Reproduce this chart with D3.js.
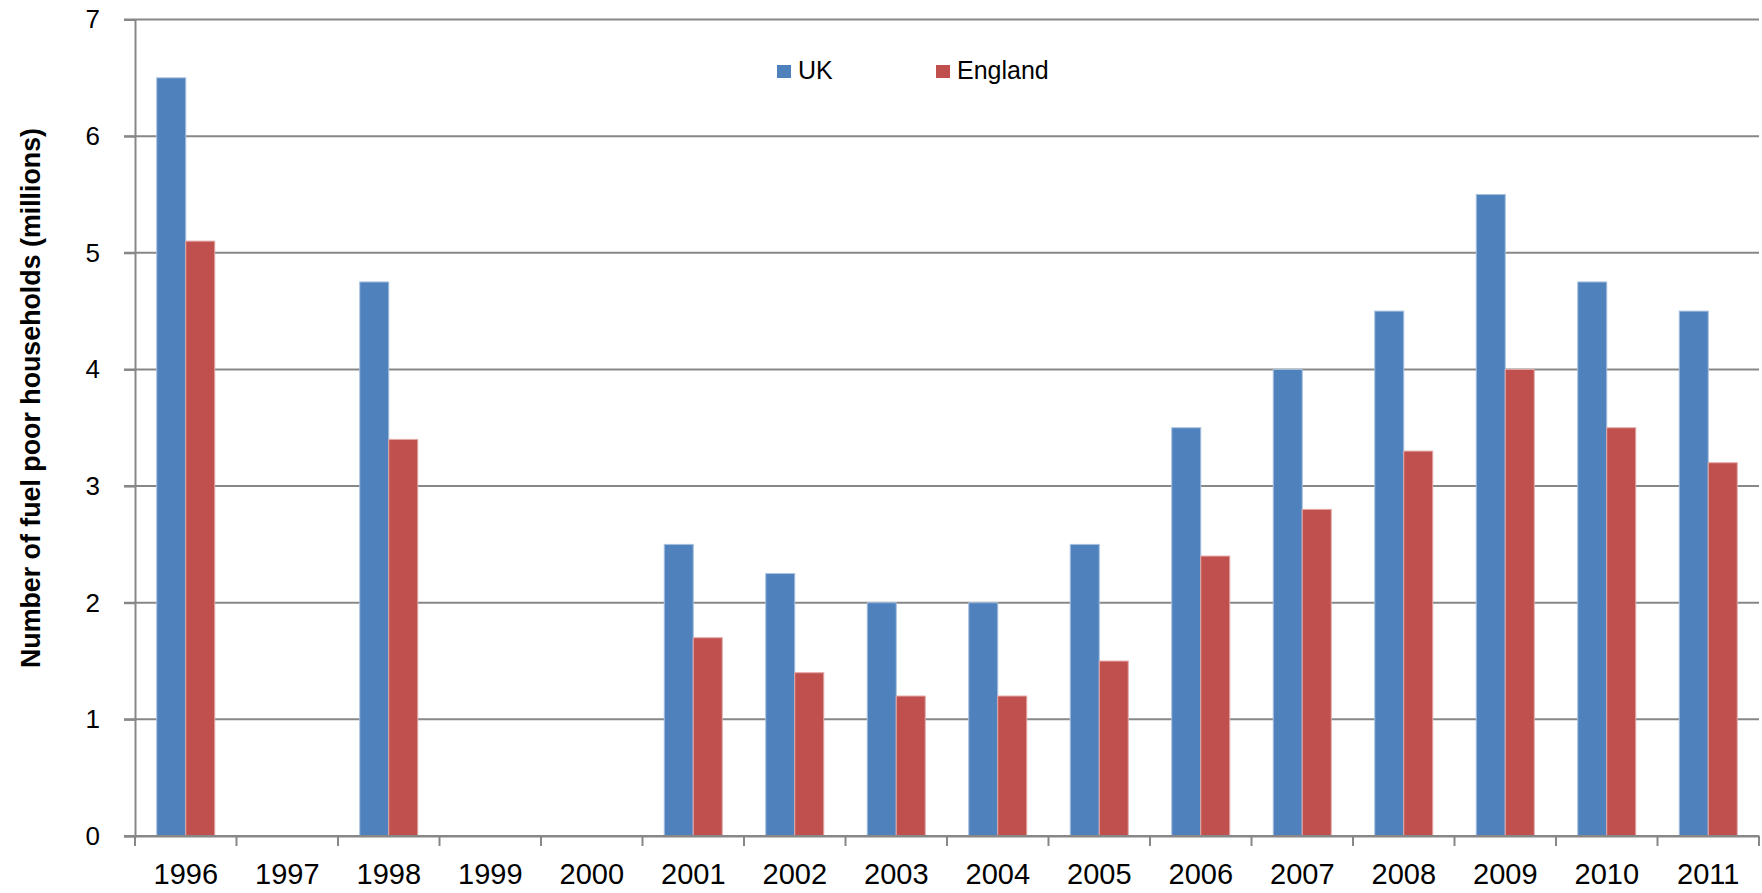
<!DOCTYPE html>
<html lang="en">
<head>
  <meta charset="UTF-8">
  <title>Fuel poor households</title>
  <style>
    body {
      margin: 0;
      padding: 0;
      background-color: #ffffff;
    }
    svg text {
      fill: #000;
    }
  </style>
  <script src="https://d3js.org/d3.v7.min.js"></script>
</head>
<body>
  <div id="chart"></div>
  <script>
    const years = ["1996", "1997", "1998", "1999", "2000", "2001", "2002", "2003",
                   "2004", "2005", "2006", "2007", "2008", "2009", "2010", "2011"];
    const series = ["UK", "England"];
    // null = no survey that year
    const ukValues = [6.5, null, 4.75, null, null, 2.5, 2.25, 2.0, 2.0, 2.5, 3.5, 4.0, 4.5, 5.5, 4.75, 4.5];
    const englandValues = [5.1, null, 3.4, null, null, 1.7, 1.4, 1.2, 1.2, 1.5, 2.4, 2.8, 3.3, 4.0, 3.5, 3.2];
    const yTicks = [0, 1, 2, 3, 4, 5, 6, 7];
    const colors = { UK: "#4f81bd", England: "#c0504d" };
    const edges = { UK: "#a7c0de", England: "#e2a9a7" };

    const width = 1762;
    const height = 893;
    const margin = { top: 19.5, right: 3, bottom: 57, left: 135 };

    const svg = d3.select("#chart")
      .append("svg")
      .attr("width", width)
      .attr("height", height);

    const x = d3.scaleBand()
      .domain(years)
      .range([margin.left, width - margin.right])
      .padding(0);

    const xSub = d3.scaleBand()
      .domain(series)
      .range([0, x.bandwidth()])
      .paddingInner(0)
      .paddingOuter(0.75);

    const y = d3.scaleLinear()
      .domain([0, 7])
      .range([height - margin.bottom, margin.top]);

    // gridlines
    svg.append("g")
      .selectAll("line")
      .data(yTicks)
      .enter()
      .append("line")
      .attr("x1", margin.left - 11)
      .attr("x2", width - margin.right)
      .attr("y1", d => y(d))
      .attr("y2", d => y(d))
      .attr("stroke", "#878787")
      .attr("stroke-width", 2);

    // y axis
    const yAxis = svg.append("g")
      .attr("transform", `translate(${margin.left},0)`)
      .call(d3.axisLeft(y).tickValues(yTicks).tickFormat(d3.format("d")).tickSize(11).tickPadding(24));
    yAxis.select(".domain").attr("stroke", "#878787").attr("stroke-width", 2);
    yAxis.selectAll(".tick line").attr("stroke", "#878787").attr("stroke-width", 2);
    yAxis.selectAll("text")
      .attr("font-family", "Liberation Sans, Arial, sans-serif")
      .attr("font-size", 26);

    // x axis
    const xAxis = svg.append("g")
      .attr("transform", `translate(0,${y(0)})`)
      .call(d3.axisBottom(x).tickSize(0).tickPadding(20));
    xAxis.select(".domain").attr("stroke", "#878787").attr("stroke-width", 2);
    xAxis.selectAll("text")
      .attr("font-family", "Liberation Sans, Arial, sans-serif")
      .attr("font-size", 29)
      .attr("dy", "0.95em");

    // category separator ticks
    const edgesX = years.map(d => x(d)).concat([x(years[years.length - 1]) + x.bandwidth()]);
    svg.append("g")
      .selectAll("line")
      .data(edgesX)
      .enter()
      .append("line")
      .attr("x1", d => d)
      .attr("x2", d => d)
      .attr("y1", y(0))
      .attr("y2", y(0) + 10)
      .attr("stroke", "#878787")
      .attr("stroke-width", 2);

    // bars
    const rows = years.map((yr, i) => ({ year: yr, UK: ukValues[i], England: englandValues[i] }));
    const groups = svg.append("g")
      .selectAll("g")
      .data(rows)
      .enter()
      .append("g")
      .attr("transform", d => `translate(${x(d.year)},0)`);

    groups.selectAll("rect")
      .data(d => series.map(s => ({ key: s, value: d[s] })).filter(v => v.value != null))
      .enter()
      .append("rect")
      .attr("x", d => xSub(d.key))
      .attr("width", xSub.bandwidth())
      .attr("y", d => y(d.value))
      .attr("height", d => y(0) - y(d.value))
      .attr("fill", d => colors[d.key])
      .attr("stroke", d => edges[d.key])
      .attr("stroke-width", 1);

    // redraw baseline over bars
    svg.append("line")
      .attr("x1", margin.left - 11)
      .attr("x2", width - margin.right)
      .attr("y1", y(0))
      .attr("y2", y(0))
      .attr("stroke", "#878787")
      .attr("stroke-width", 2);

    // y axis title
    svg.append("text")
      .attr("transform", `translate(40,${(128 + 668) / 2}) rotate(-90)`)
      .attr("text-anchor", "middle")
      .attr("font-family", "Liberation Sans, Arial, sans-serif")
      .attr("font-weight", "bold")
      .attr("font-size", 28)
      .attr("textLength", 540)
      .attr("lengthAdjust", "spacingAndGlyphs")
      .text("Number  of fuel poor households (millions)");

    // legend
    const legendX = [777, 936];
    const legend = svg.append("g")
      .selectAll("g")
      .data(series)
      .enter()
      .append("g")
      .attr("transform", (d, i) => `translate(${legendX[i]},65)`);

    legend.append("rect")
      .attr("width", 14)
      .attr("height", 13)
      .attr("fill", d => colors[d]);

    legend.append("text")
      .attr("x", 21)
      .attr("y", 14)
      .attr("font-family", "Liberation Sans, Arial, sans-serif")
      .attr("font-size", 25)
      .text(d => d);
  </script>
</body>
</html>
